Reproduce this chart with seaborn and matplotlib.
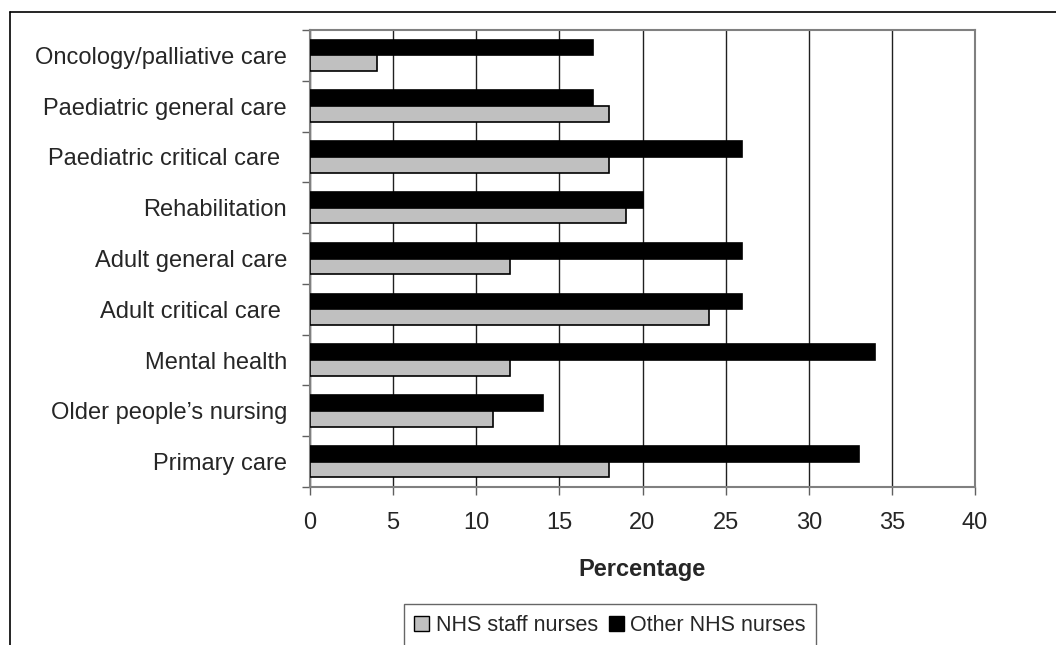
import matplotlib
matplotlib.use("Agg")
import matplotlib.pyplot as plt
import seaborn as sns
import pandas as pd
from matplotlib.patches import Patch
from matplotlib.lines import Line2D

categories = ["Oncology/palliative care", "Paediatric general care", "Paediatric critical care ",
              "Rehabilitation", "Adult general care", "Adult critical care ",
              "Mental health", "Older people\u2019s nursing", "Primary care"]
other_nhs = [17, 17, 26, 20, 26, 26, 34, 14, 33]
staff_nhs = [4, 18, 18, 19, 12, 24, 12, 11, 18]
series = ["Other NHS nurses", "NHS staff nurses"]
colors = {"Other NHS nurses": "#000000", "NHS staff nurses": "#c0c0c0"}

df = pd.DataFrame({
    "cat": categories * 2,
    "val": other_nhs + staff_nhs,
    "grp": [series[0]] * len(categories) + [series[1]] * len(categories),
})

sns.set_style("white")
plt.rcParams["font.family"] = ["Liberation Sans", "DejaVu Sans"]

fig = plt.figure(figsize=(10.56, 6.45), dpi=100)
ax = fig.add_axes([310 / 1056, 1 - 487 / 645, 665 / 1056, 457 / 645])

sns.barplot(data=df, x="val", y="cat", hue="grp", hue_order=series, palette=colors,
            orient="h", width=0.62, gap=0, edgecolor="black", linewidth=1.2,
            legend=False, ax=ax, zorder=3)

ax.set_xlim(0, 40)
ax.set_xticks(range(0, 41, 5))
ax.set_ylim(len(categories) - 0.5, -0.5)
ax.grid(axis="x", color="#202020", linewidth=1, zorder=0)
ax.set_axisbelow(True)
for s in ax.spines.values():
    s.set_color("#808080")
    s.set_linewidth(1.5)

ax.tick_params(axis="x", length=6, width=1, color="#606060", direction="out",
               labelsize=17, pad=12, bottom=True)
ax.tick_params(axis="y", length=0, labelsize=17, pad=16.5)
ax.set_yticks([i - 0.5 for i in range(len(categories) + 1)], minor=True)
ax.tick_params(axis="y", which="minor", length=6, width=1, color="#606060",
               direction="out", left=True)
ax.set_xlabel("Percentage", fontsize=17, fontweight="bold", labelpad=17)
ax.set_ylabel("")

handles = [Patch(facecolor=colors["NHS staff nurses"], edgecolor="black", label="NHS staff nurses"),
           Patch(facecolor=colors["Other NHS nurses"], edgecolor="black", label="Other NHS nurses")]
leg = fig.legend(handles=handles, loc="upper center", bbox_to_anchor=(610 / 1056, 1 - 604 / 645),
                 ncol=2, frameon=True, fancybox=False, fontsize=15.5,
                 handlelength=0.7, handleheight=0.7, handletextpad=0.3, columnspacing=0.5,
                 borderpad=0.5, borderaxespad=0)
leg.get_frame().set_edgecolor("#404040")
leg.get_frame().set_linewidth(1)

fig.add_artist(Line2D([10 / 1056, 1], [1 - 12 / 645, 1 - 12 / 645], color="black", linewidth=1.2,
                      transform=fig.transFigure))
fig.add_artist(Line2D([10 / 1056, 10 / 1056], [1 - 12 / 645, 0], color="black", linewidth=1.2,
                      transform=fig.transFigure))

fig.savefig("out.png", dpi=100)
